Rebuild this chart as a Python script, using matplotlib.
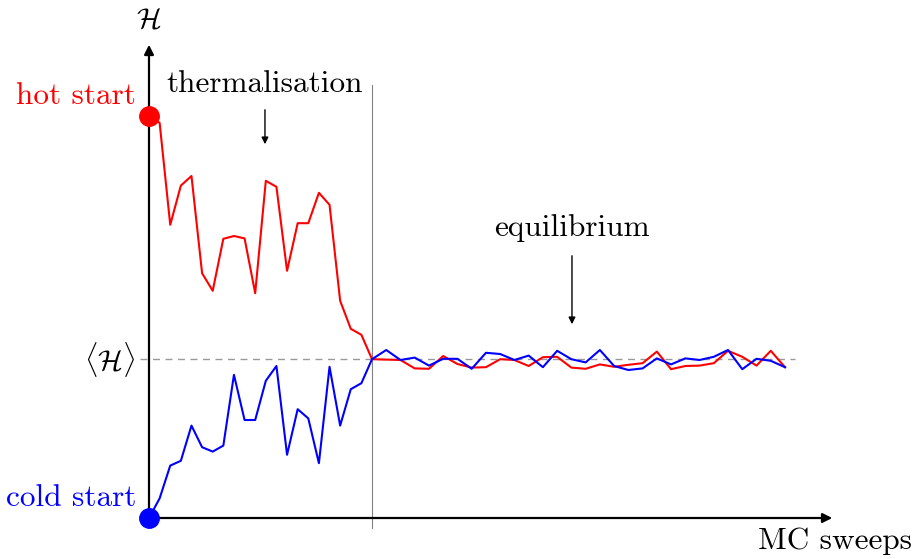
import numpy as np
import matplotlib.pyplot as plt

plt.rcParams['font.family'] = 'serif'
plt.rcParams['font.serif'] = ['cmr10']
plt.rcParams['mathtext.fontset'] = 'cm'
plt.rcParams['axes.unicode_minus'] = False

# energy traces, hot start and cold start
hot_therm = [10.05, 9.88, 7.33, 8.31, 8.55, 6.12, 5.68, 6.98, 7.05, 6.99, 5.62,
             8.43, 8.28, 6.18, 7.37, 7.37, 8.13, 7.83, 5.43, 4.73, 4.58, 3.97]
hot_eq = [3.96, 3.95, 3.74, 3.73, 4.05, 3.85, 3.76, 3.77, 3.97, 3.95, 3.80,
          4.02, 4.03, 3.76, 3.73, 3.84, 3.78, 3.83, 3.87, 4.16, 3.72, 3.80,
          3.81, 3.87, 4.18, 4.03, 3.81, 4.18, 3.77]
cold_therm = [0.0, 0.49, 1.31, 1.43, 2.31, 1.77, 1.66, 1.81, 3.58, 2.45, 2.45,
              3.43, 3.80, 1.58, 2.72, 2.49, 1.37, 3.78, 2.31, 3.22, 3.37, 3.97]
cold_eq = [4.20, 3.95, 4.01, 3.81, 3.98, 3.98, 3.73, 4.13, 4.10, 3.95, 4.06,
           3.77, 4.18, 3.97, 3.89, 4.20, 3.80, 3.70, 3.74, 3.99, 3.84, 3.99,
           3.95, 4.03, 4.20, 3.72, 3.98, 3.93, 3.77]
mean_H = 3.97
t_eq = 21

x_therm = np.arange(len(hot_therm))
x_eq = t_eq + np.arange(1, len(hot_eq) + 1) * 1.341
x = np.concatenate([x_therm, x_eq])
hot = np.array(hot_therm + hot_eq)
cold = np.array(cold_therm + cold_eq)

fig = plt.figure(figsize=(9.15, 5.59), dpi=100)
ax = fig.add_axes([0, 0, 1, 1])
ax.set_xlim(-14.03, 72.13)
ax.set_ylim(-1.025, 12.95)
ax.axis('off')

# axes with arrow heads
ax.annotate('', xy=(64.6, 0), xytext=(0, 0),
            arrowprops=dict(arrowstyle='-|>', lw=1.6, color='black', mutation_scale=14))
ax.annotate('', xy=(0, 11.9), xytext=(0, 0),
            arrowprops=dict(arrowstyle='-|>', lw=1.6, color='black', mutation_scale=14))

ax.plot([t_eq, t_eq], [-0.25, 10.83], color='gray', lw=0.8)
ax.plot([-0.85, 60.8], [mean_H, mean_H], color='#999999', lw=1.0, ls=(0, (5, 4)))

ax.plot(x, hot, color='red', lw=1.5)
ax.plot(x, cold, color='blue', lw=1.5)
ax.plot(0, hot[0], 'o', color='red', ms=14, zorder=5)
ax.plot(0, cold[0], 'o', color='blue', ms=14, zorder=5)

fs = 22.5
ax.text(0, 12.45, r'$\mathcal{H}$', fontsize=21, ha='center', va='center')
ax.text(-1.22, 10.55, 'hot start', color='red', fontsize=fs, ha='right', va='center')
ax.text(-1.22, 0.5, 'cold start', color='blue', fontsize=fs, ha='right', va='center')
ax.text(-1.32, mean_H, r'$\langle\mathcal{H}\rangle$', fontsize=21, ha='right', va='center')
ax.text(71.85, -0.575, 'MC sweeps', fontsize=fs, ha='right', va='center')

ax.text(10.92, 10.85, 'thermalisation', fontsize=fs, ha='center', va='center')
ax.annotate('', xy=(10.92, 9.275), xytext=(10.92, 10.275),
            arrowprops=dict(arrowstyle='-|>', lw=1.0, color='black', mutation_scale=10))
ax.text(39.83, 7.25, 'equilibrium', fontsize=fs, ha='center', va='center')
ax.annotate('', xy=(39.83, 4.775), xytext=(39.83, 6.625),
            arrowprops=dict(arrowstyle='-|>', lw=1.0, color='black', mutation_scale=10))

plt.savefig('out.png')
